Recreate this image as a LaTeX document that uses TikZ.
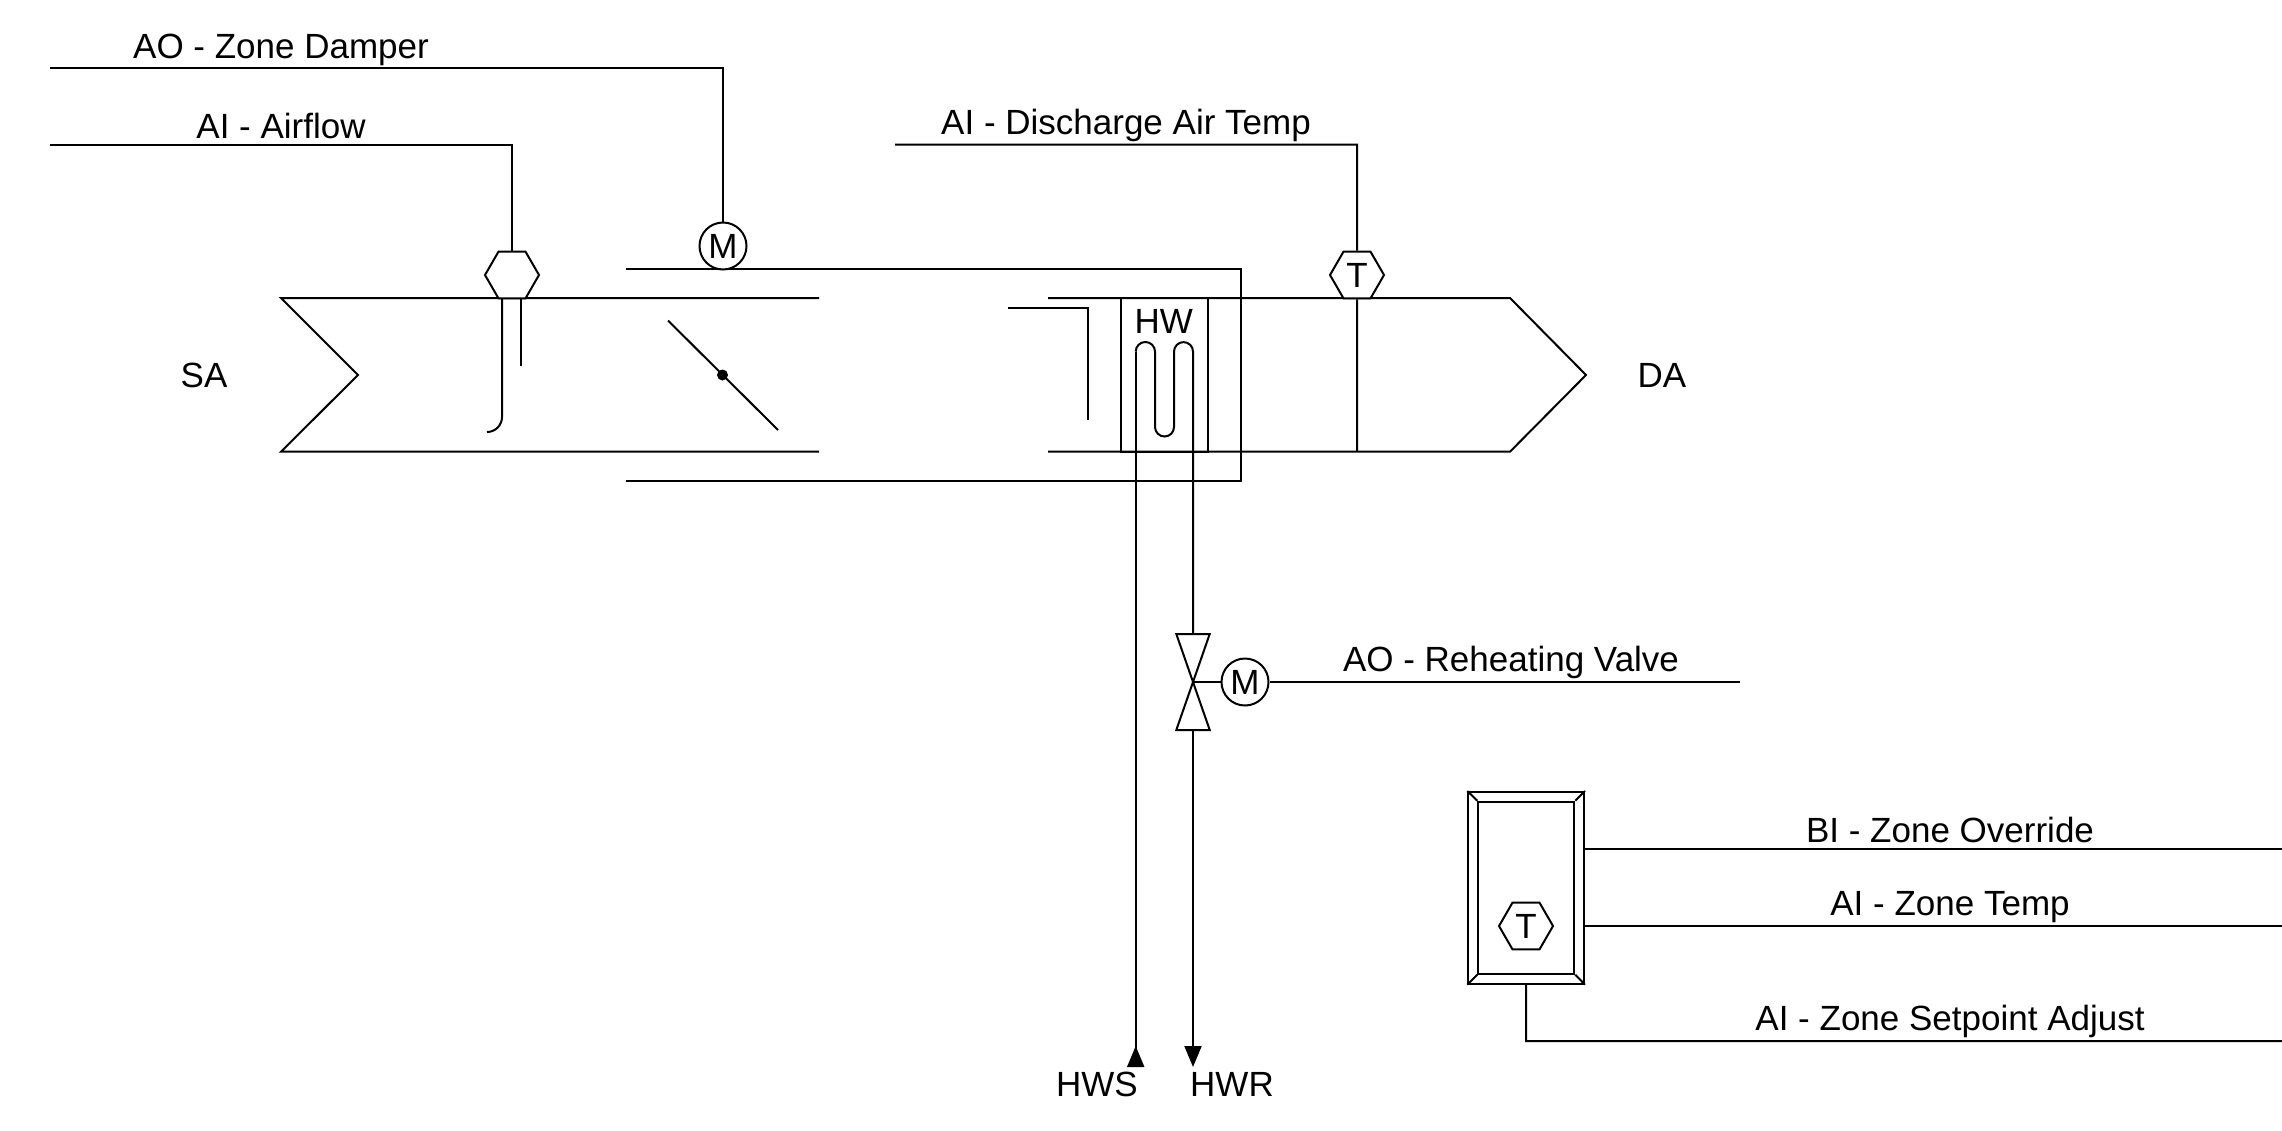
\documentclass[tikz,border=0pt]{standalone}
\usepackage{fontspec}
\setmainfont{Liberation Sans}
\usetikzlibrary{arrows.meta,shapes.geometric}
\tikzset{
  ln/.style={line width=2pt,line join=miter,black},
  hexnode/.style={ln,draw,fill=white,regular polygon,regular polygon sides=6,minimum size=54pt,inner sep=0pt,font=\fontsize{35}{42}\selectfont},
  motor/.style={ln,draw,fill=white,circle,minimum size=47pt,inner sep=0pt,font=\fontsize{35}{42}\selectfont},
  lbl/.style={inner sep=0pt,anchor=base,font=\fontsize{35}{42}\selectfont,text=black},
  box/.style={ln,draw,rectangle,inner sep=0pt},
  upTip/.style={-{Triangle[reversed,length=21pt,width=17pt]}},
  downTip/.style={-{Triangle[length=21pt,width=17pt]}}
}
\begin{document}
\begin{tikzpicture}[x=1pt,y=-1pt]
\fill[white] (0,0) rectangle (2282,1130);
\useasboundingbox (0,0) rectangle (2282,1130);
% free ends
\coordinate (aoEnd) at (50,67.5);
\coordinate (aoCorner) at (723,67.5);
\coordinate (afEnd) at (50,144.5);
\coordinate (afCorner) at (512,144.5);
\coordinate (datEnd) at (895,144.5);
\coordinate (datCorner) at (1357,144.5);
\coordinate (datFoot) at (1357,451.7);
\coordinate (rvEnd) at (1740,682);
\coordinate (valveC) at (1193,682);
\coordinate (valveTop) at (1193,634);
\coordinate (valveBot) at (1193,730);
\coordinate (hwsEnd) at (1135.7,1067);
\coordinate (hwrEnd) at (1193,1067);
\coordinate (tsA) at (2282,849.3);
\coordinate (tsB) at (2282,926);
\coordinate (tsC) at (2282,1041);
\coordinate (tsCorner) at (1526,1041);
% duct
\draw[ln] (819,298) -- (281,298) -- (358,375) -- (281,451.7) -- (819,451.7);
\draw[ln] (1048,298) -- (1510,298) -- (1586,375) -- (1510,451.7) -- (1048,451.7);
% damper enclosure
\draw[ln] (626,269) -- (1241,269) -- (1241,480.5) -- (626,480.5);
% damper blade
\draw[ln] (668,320.5) -- (778,430);
\fill (722.5,375) circle (5.5pt);
% baffle
\draw[ln] (1008,307.7) -- (1088,307.7) -- (1088,420);
% HW coil box
\node[box,minimum width=86.7pt,minimum height=153.7pt] (coilBox) at (1164.6,374.85) {};
\node[lbl] (hwLabel) at (1163.7,333.2) {HW};
% coil
\draw[ln,upTip] (1135.7,351.6) -- (hwsEnd);
\draw[ln] (1135.7,351.6) arc[start angle=180,end angle=0,radius=9.65pt] -- (1155,427) arc[start angle=180,end angle=360,radius=9.5pt] -- (1174,351.6) arc[start angle=180,end angle=0,radius=9.5pt] -- (valveTop);
\draw[ln,downTip] (valveBot) -- (hwrEnd);
% airflow sensor
\node[hexnode] (afHex) at (512,275) {};
\draw[ln,rounded corners=15pt] (502,298) -- (502,432) -- (487,432);
\draw[ln] (521,298) -- (521,366);
\draw[ln] (afEnd) -- (afCorner) -- (afHex.north);
% damper motor
\node[motor] (dmpM) at (723,246) {M};
\draw[ln] (aoEnd) -- (aoCorner) -- (dmpM.north);
% discharge sensor
\node[hexnode] (datHex) at (1357,275) {T};
\draw[ln] (datEnd) -- (datCorner) -- (datHex.north);
\draw[ln] (datHex.south) -- (datFoot);
% valve
\draw[ln] (1176.3,634) -- (1209.7,634) -- (1176.3,730) -- (1209.7,730) -- cycle;
\node[motor] (valveM) at (1245,682) {M};
\draw[ln] (valveC) -- (valveM.west);
\draw[ln] (valveM.east) -- (rvEnd);
% thermostat
\node[box,minimum width=115.7pt,minimum height=191.7pt] (tsOuter) at (1526.15,887.85) {};
\node[box,minimum width=96pt,minimum height=172pt] (tsInner) at (1526.3,887.7) {};
\draw[ln] (tsOuter.north west) -- (tsInner.north west);
\draw[ln] (tsOuter.north east) -- (tsInner.north east);
\draw[ln] (tsOuter.south west) -- (tsInner.south west);
\draw[ln] (tsOuter.south east) -- (tsInner.south east);
\node[hexnode] (tsHex) at (1526,926) {T};
\draw[ln] (tsOuter.east |- tsA) -- (tsA);
\draw[ln] (tsOuter.east |- tsB) -- (tsB);
\draw[ln] (tsOuter.south) -- (tsCorner) -- (tsC);
% labels
\node[lbl] (l1) at (281,58) {AO - Zone Damper};
\node[lbl] (l2) at (281,138) {AI - Airflow};
\node[lbl] (l3) at (1126,134) {AI - Discharge Air Temp};
\node[lbl] (l4) at (204,387) {SA};
\node[lbl] (l5) at (1662,387) {DA};
\node[lbl] (l6) at (1511,671) {AO - Reheating Valve};
\node[lbl] (l7) at (1950,842) {BI - Zone Override};
\node[lbl] (l8) at (1950,915.5) {AI - Zone Temp};
\node[lbl] (l9) at (1950,1030) {AI - Zone Setpoint Adjust};
\node[lbl] (l10) at (1097,1096.7) {HWS};
\node[lbl] (l11) at (1232,1096.7) {HWR};
\end{tikzpicture}
\end{document}
